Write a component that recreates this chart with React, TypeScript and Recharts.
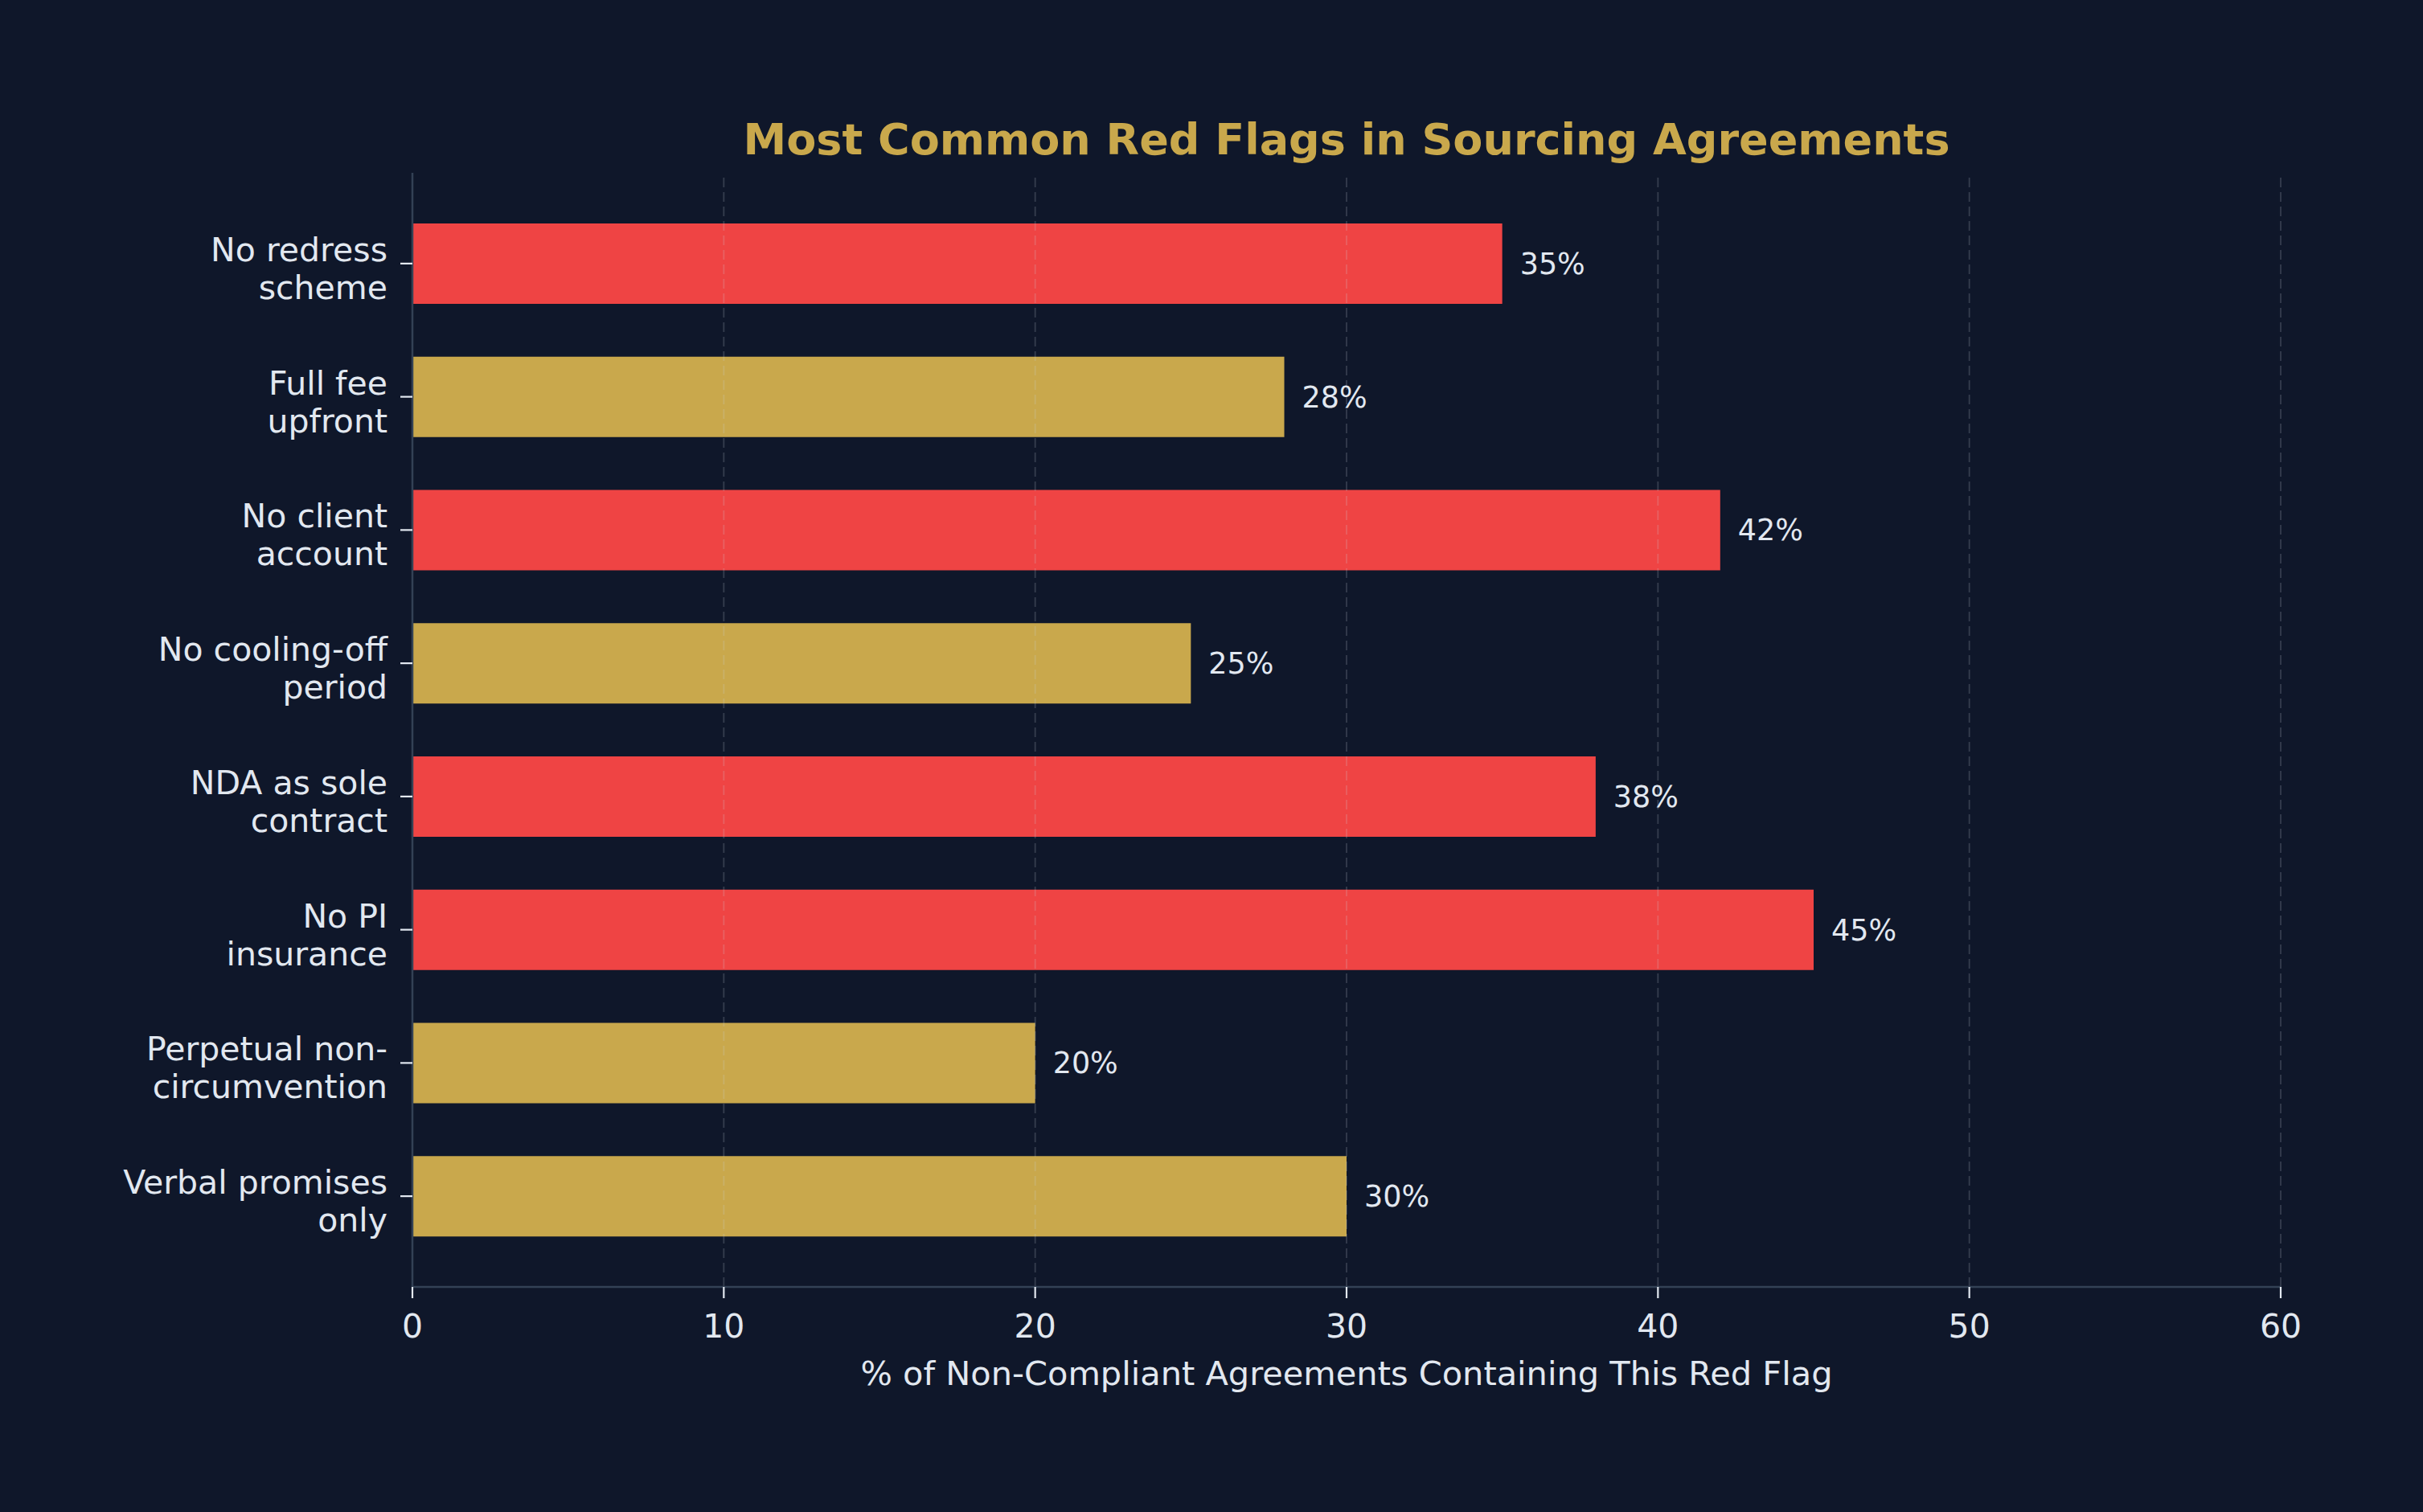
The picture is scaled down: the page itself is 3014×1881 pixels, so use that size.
import React from 'react';
import { BarChart, Bar, XAxis, YAxis, Cell, LabelList, ReferenceLine } from 'recharts';

const categories = [
  'No redress\nscheme',
  'Full fee\nupfront',
  'No client\naccount',
  'No cooling-off\nperiod',
  'NDA as sole\ncontract',
  'No PI\ninsurance',
  'Perpetual non-\ncircumvention',
  'Verbal promises\nonly',
];
const values = [35, 28, 42, 25, 38, 45, 20, 30];
const severity = ['high', 'medium', 'high', 'medium', 'high', 'high', 'medium', 'medium'];
const xTicks = [0, 10, 20, 30, 40, 50, 60];
const gridTicks = [10, 20, 30, 40, 50, 60];

const title = 'Most Common Red Flags in Sourcing Agreements';
const xLabel = '% of Non-Compliant Agreements Containing This Red Flag';

const data = categories.map((name, i) => ({ name, value: values[i], severity: severity[i] }));

const BG = '#0F172A';
const TEXT = '#E2E8F0';
const SPINE = '#334155';
const RED = '#EF4444';
const GOLD = '#C9A84C';
const FONT = '"DejaVu Sans", sans-serif';

const W = 3014;
const H = 1881;

const YTick = (props: any) => {
  const { x, y, payload } = props;
  const lines = String(payload.value).split('\n');
  return (
    <text x={x} y={y} textAnchor="end" fill={TEXT} fontSize={41} fontFamily={FONT}>
      {lines.map((l, i) => (
        <tspan key={i} x={x} y={y - 3 + i * 47}>
          {l}
        </tspan>
      ))}
    </text>
  );
};

const XLabel = (props: any) => {
  const vb = props.viewBox || {};
  return (
    <text
      x={vb.x + vb.width / 2}
      y={vb.y + 122}
      textAnchor="middle"
      fill={TEXT}
      fontSize={41.5}
      fontFamily={FONT}
    >
      {xLabel}
    </text>
  );
};

export default function App() {
  return (
    <div style={{ position: 'absolute', left: 0, top: 0, width: W, height: H, background: BG }}>
      <BarChart
        layout="vertical"
        width={W}
        height={H}
        data={data}
        margin={{ top: 215, right: 177, bottom: 80, left: 33 }}
      >
        <XAxis
          type="number"
          domain={[0, 60]}
          ticks={xTicks}
          interval={0}
          height={200}
          tick={{ fill: TEXT, fontSize: 41, fontFamily: FONT }}
          tickLine={{ stroke: TEXT, strokeWidth: 2.2 }}
          tickSize={14}
          tickMargin={20}
          axisLine={{ stroke: SPINE, strokeWidth: 2.5 }}
          label={<XLabel />}
        />
        <YAxis
          type="category"
          dataKey="name"
          width={480}
          interval={0}
          padding={{ top: 30, bottom: 30 }}
          tick={<YTick />}
          tickLine={{ stroke: TEXT, strokeWidth: 2.2 }}
          tickSize={15}
          tickMargin={16}
          axisLine={{ stroke: SPINE, strokeWidth: 2.5 }}
        />
        <Bar dataKey="value" barSize={100} isAnimationActive={false}>
          {data.map((d, i) => (
            <Cell key={i} fill={d.severity === 'high' ? RED : GOLD} />
          ))}
          <LabelList
            dataKey="value"
            position="right"
            offset={22}
            formatter={(v: any) => `${v}%`}
            fill={TEXT}
            fontSize={36.5}
            fontFamily={FONT}
          />
        </Bar>
        {gridTicks.map((t) => (
          <ReferenceLine
            key={t}
            x={t}
            stroke="#CBD5E1"
            strokeOpacity={0.2}
            strokeWidth={1.8}
            strokeDasharray="12 6"
          />
        ))}
      </BarChart>
      <svg
        width={W}
        height={H}
        style={{ position: 'absolute', left: 0, top: 0, pointerEvents: 'none' }}
      >
        <text
          x={1675}
          y={192}
          textAnchor="middle"
          fill={GOLD}
          fontSize={54}
          fontWeight="bold"
          fontFamily={FONT}
        >
          {title}
        </text>
      </svg>
    </div>
  );
}
